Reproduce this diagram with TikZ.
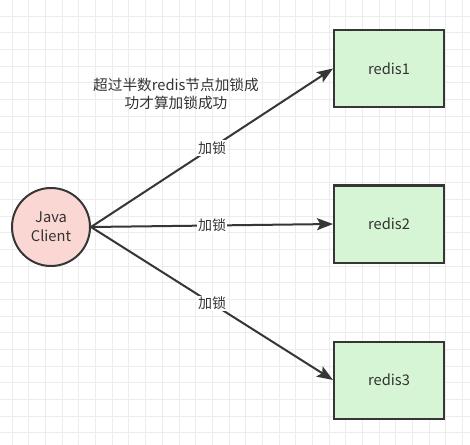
\documentclass[tikz,border=0pt]{standalone}
\usepackage{fontspec}
\setmainfont{Noto Sans CJK SC}
\usetikzlibrary{arrows.meta}
\definecolor{gridc}{RGB}{236,236,236}
\definecolor{linec}{RGB}{54,54,54}
\definecolor{txtc}{RGB}{51,51,51}
\definecolor{pinkc}{RGB}{250,215,210}
\definecolor{greenc}{RGB}{214,245,212}
\tikzset{
  client/.style={circle,draw=linec,line width=1.5pt,fill=pinkc,minimum size=58.5pt,inner sep=0pt,align=center,text=txtc,font=\fontsize{11pt}{14pt}\selectfont},
  redisbox/.style={rectangle,draw=linec,line width=1.5pt,fill=greenc,minimum width=82.5pt,minimum height=57.75pt,text=txtc,font=\fontsize{11pt}{13pt}\selectfont},
  arr/.style={draw=linec,line width=1.5pt,-{Stealth[length=12pt,width=9pt,inset=2.5pt]}},
  lbl/.style={fill=white,inner sep=1pt,text=txtc,font=\fontsize{10.5pt}{12pt}\selectfont},
  note/.style={align=center,text=txtc,font=\fontsize{11pt}{13.5pt}\selectfont}
}
\begin{document}
\begin{tikzpicture}[x=0.75pt,y=-0.75pt]
\useasboundingbox (0,0) rectangle (470,445);
\fill[white] (0,0) rectangle (470,445);
\foreach \i in {0,...,27} {
  \draw[gridc,line width=0.75pt] (12.3+16.67*\i,0) -- (12.3+16.67*\i,445);
}
\foreach \j in {1,...,26} {
  \draw[gridc,line width=0.75pt] (0,-0.5+16.67*\j) -- (470,-0.5+16.67*\j);
}
\node[client] (c) at (51,227) {Java\\Client};
\node[redisbox] (r1) at (389,68.5) {redis1};
\node[redisbox] (r2) at (389,224) {redis2};
\node[redisbox] (r3) at (389,380) {redis3};
\draw[arr] (c.east) -- node[lbl] (l1) {加锁} (r1.west);
\draw[arr] (c.east) -- node[lbl] (l2) {加锁} (r2.west);
\draw[arr] (c.east) -- node[lbl] (l3) {加锁} (r3.west);
\node[note] (n) at (176,94) {超过半数redis节点加锁成\\功才算加锁成功};
\end{tikzpicture}
\end{document}
